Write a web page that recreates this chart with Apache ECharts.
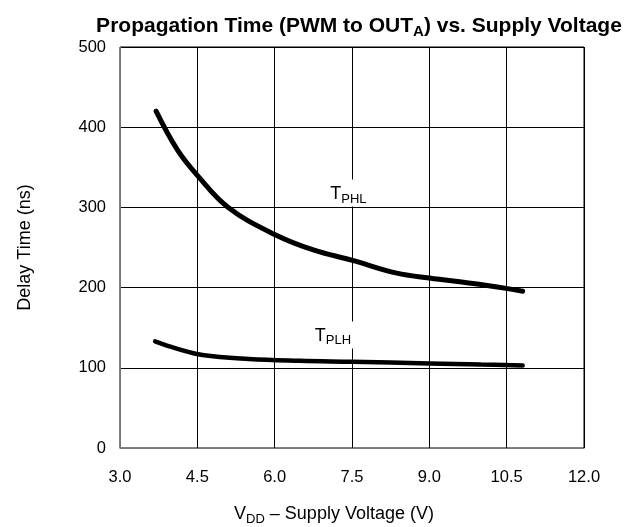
<!DOCTYPE html>
<html><head><meta charset="utf-8">
<script src="https://cdn.jsdelivr.net/npm/echarts@6/dist/echarts.min.js"></script>
<style>html,body{margin:0;padding:0;background:#fff}#c{width:633px;height:527px}</style>
</head><body><div id="c"></div>
<script>
const xTicks = [3.0, 4.5, 6.0, 7.5, 9.0, 10.5, 12.0];
const yTicks = [0, 100, 200, 300, 400, 500];
const tphlV = [3.70, 4.12, 4.50, 5.10, 6.01, 6.75, 7.51, 8.37, 9.00, 9.85, 10.49, 10.81];
const tphlT = [420, 371, 340, 300, 266, 247, 234, 218, 212, 205, 199, 195.5];
const tplhV = [3.68, 4.10, 4.60, 5.50, 6.49, 7.50, 9.00, 10.00, 10.81];
const tplhT = [133, 124, 116, 111, 108.7, 107.5, 105.5, 104, 103];
const labelPos = {TPHL: [7.43, 318], TPLH: [7.13, 141]};

const font = 'Liberation Sans, Arial, sans-serif';
const chart = echarts.init(document.getElementById('c'), null, {renderer: 'canvas'});
const zip = (a, b) => a.map((v, i) => [v, b[i]]);
const rich = {
  n: {fontFamily: font, fontSize: 18, color: '#000'},
  s: {fontFamily: font, fontSize: 13, color: '#000', padding: [10, 0, 0, 0]}
};
function lbl(name, sub, pos) {
  return {
    coord: pos, symbol: 'circle', symbolSize: 0,
    label: {show: true, position: 'inside', formatter: '{n|' + name + '}{s|' + sub + '}', rich: rich,
            backgroundColor: '#fff', padding: [3, 3, 1, 3]}
  };
}
chart.setOption({
  animation: false,
  backgroundColor: '#fff',
  title: {
    text: '{b|Propagation Time (PWM to OUT}{bs|A}{b|) vs. Supply Voltage}',
    left: 354, top: 9, textAlign: 'center',
    textStyle: {
      rich: {
        b: {fontFamily: font, fontSize: 21, fontWeight: 'bold', color: '#000'},
        bs: {fontFamily: font, fontSize: 15, fontWeight: 'bold', color: '#000', padding: [10, 0, 0, 0]}
      }
    }
  },
  grid: {left: 120, right: 49, top: 47, bottom: 79, show: true, borderColor: '#000', borderWidth: 1,
         containLabel: false, outerBoundsMode: 'none'},
  xAxis: {
    type: 'value', min: 3, max: 12, interval: 1.5,
    name: '{n|V}{s|DD}{n| – Supply Voltage (V)}', nameLocation: 'middle', nameGap: 55,
    nameTextStyle: {rich: rich, padding: [0, 36, 0, 0]},
    axisLine: {show: true, lineStyle: {color: '#777', width: 1}},
    axisTick: {show: false},
    axisLabel: {formatter: v => v.toFixed(1), fontFamily: font, fontSize: 16.5, color: '#000', margin: 21},
    splitLine: {show: true, lineStyle: {color: '#000', width: 1}}
  },
  yAxis: {
    type: 'value', min: 0, max: 500, interval: 100,
    name: 'Delay Time (ns)', nameLocation: 'middle', nameGap: 86, nameRotate: 90,
    nameTextStyle: {fontFamily: font, fontSize: 18, color: '#000'},
    axisLine: {show: true, lineStyle: {color: '#777', width: 1}},
    axisTick: {show: false},
    axisLabel: {fontFamily: font, fontSize: 16.5, color: '#000', margin: 14},
    splitLine: {show: true, lineStyle: {color: '#000', width: 1}}
  },
  series: [
    {type: 'line', data: zip(tphlV, tphlT), smooth: 0.4, showSymbol: false, lineStyle: {color: '#000', width: 5, cap: 'round'},
     markPoint: {data: [lbl('T', 'PHL', labelPos.TPHL)]}},
    {type: 'line', data: zip(tplhV, tplhT), smooth: 0.4, showSymbol: false, lineStyle: {color: '#000', width: 4.5, cap: 'round'},
     markPoint: {data: [lbl('T', 'PLH', labelPos.TPLH)]}}
  ]
});
</script></body></html>
